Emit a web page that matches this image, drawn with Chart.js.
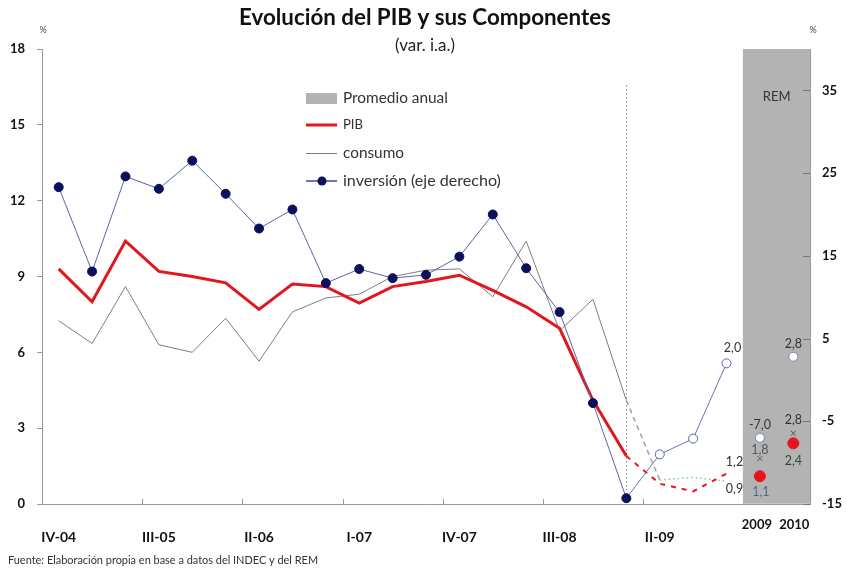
<!DOCTYPE html>
<html><head><meta charset="utf-8">
<script src="https://cdn.jsdelivr.net/npm/chart.js@4.4.1/dist/chart.umd.min.js"></script>
<style>html,body{margin:0;padding:0;background:#fff}#wrap{width:847px;height:571px;position:relative}</style>
</head><body><div id="wrap"><canvas id="c" width="847" height="571"></canvas></div>
<script>
// ---------- DATA ----------
const categories = ['IV-04','I-05','II-05','III-05','IV-05','I-06','II-06','III-06','IV-06','I-07','II-07','III-07','IV-07','I-08','II-08','III-08','IV-08','I-09','II-09','III-09','IV-09','2009','2010'];
const shownCategoryIdx = [0,3,6,9,12,15,18];
const promedioAnual = [null,null,null,null,null,null,null,null,null,null,null,null,null,null,null,null,null,null,null,null,null,18,18];
const pib =        [9.3,8.0,10.4,9.2,9.0,8.75,7.7,8.7,8.6,7.95,8.6,8.8,9.05,8.45,7.8,6.95,4.1,1.9,null,null,null,null,null];
const pibProy =    [null,null,null,null,null,null,null,null,null,null,null,null,null,null,null,null,null,1.9,0.8,0.5,1.2,null,null];
const consumo =    [7.25,6.35,8.6,6.3,6.0,7.35,5.65,7.6,8.15,8.3,9.0,9.25,9.3,8.2,10.4,6.85,8.1,4.1,null,null,null,null,null];
const consumoProy =[null,null,null,null,null,null,null,null,null,null,null,null,null,null,null,null,null,4.1,0.95,1.05,0.9,null,null];
const inversion =  [23.3,13.1,24.6,23.1,26.5,22.5,18.3,20.6,11.7,13.4,12.3,12.7,14.9,20.0,13.5,8.2,-2.8,-14.3,null,null,null,null,null];
const inversionProy=[null,null,null,null,null,null,null,null,null,null,null,null,null,null,null,null,null,-14.3,-9.0,-7.1,2.0,null,null];
const remPib =       [null,null,null,null,null,null,null,null,null,null,null,null,null,null,null,null,null,null,null,null,null,1.1,2.4];
const remConsumo =   [null,null,null,null,null,null,null,null,null,null,null,null,null,null,null,null,null,null,null,null,null,1.8,2.8];
const remInversion = [null,null,null,null,null,null,null,null,null,null,null,null,null,null,null,null,null,null,null,null,null,-7.0,2.8];
const leftTicks = [0,3,6,9,12,15,18];
const rightTicks = [-15,-5,5,15,25,35];
const yearLabels = ['2009','2010'];
const lastRealIdx = 17;

const FONT = 'Lato, "Open Sans", sans-serif';
const fmt = v => v.toFixed(1).replace('.', ',');

function fitText(ctx, text, x, y, width, weight, align) {
  ctx.font = weight + ' 20px ' + FONT;
  const w = ctx.measureText(text).width;
  const size = 20 * width / w;
  ctx.font = weight + ' ' + size.toFixed(2) + 'px ' + FONT;
  ctx.textAlign = align;
  ctx.fillText(text, x, y);
}

const decor = {
  id: 'decor',
  beforeDatasetsDraw(chart) {
    const {ctx, scales:{x}} = chart;
    const ca = chart.chartArea;
    ctx.save();
    ctx.strokeStyle = '#8a8a8a'; ctx.lineWidth = 1; ctx.setLineDash([1.5,2.5]);
    const xp = Math.round(x.getPixelForValue(lastRealIdx)) + 0.5;
    ctx.beginPath(); ctx.moveTo(xp, 85); ctx.lineTo(xp, ca.bottom); ctx.stroke();
    ctx.restore();
  },
  afterDraw(chart) {
    const {ctx, scales:{x, y, y2}} = chart;
    const ca = chart.chartArea;
    ctx.save();
    // x tick marks (inside)
    ctx.strokeStyle = '#999'; ctx.lineWidth = 1;
    [3,6,9,12,15,18].forEach(i => {
      const xp = Math.round((x.getPixelForValue(i-1) + x.getPixelForValue(i))/2) + 0.5;
      ctx.beginPath(); ctx.moveTo(xp, ca.bottom); ctx.lineTo(xp, ca.bottom - 5); ctx.stroke();
    });
    // right tick marks (inside)
    ctx.strokeStyle = '#777';
    rightTicks.forEach(v => {
      const yp = Math.round(y2.getPixelForValue(v)) + 0.5;
      ctx.beginPath(); ctx.moveTo(ca.right - 7, yp); ctx.lineTo(ca.right, yp); ctx.stroke();
    });
    // titles
    ctx.textBaseline = 'middle';
    ctx.fillStyle = '#111';
    fitText(ctx, 'Evolución del PIB y sus Componentes', 425, 18, 372, 'bold', 'center');
    ctx.fillStyle = '#222';
    fitText(ctx, '(var. i.a.)', 425, 46, 60, 'normal', 'center');
    ctx.textAlign = 'center';
    ctx.font = '9px ' + FONT; ctx.fillStyle = '#444';
    ctx.fillText('%', 43, 30);
    ctx.fillText('%', 813, 30);
    // REM
    const xr = (x.getPixelForValue(21) + x.getPixelForValue(22))/2;
    ctx.font = '13px ' + FONT; ctx.fillStyle = '#333';
    ctx.fillText('REM', xr, 97);
    // year labels
    ctx.font = 'bold 13px ' + FONT; ctx.fillStyle = '#111';
    yearLabels.forEach((t, k) => ctx.fillText(t, x.getPixelForValue(21 + k) + (k === 0 ? -3 : 1), 525));
    // source
    ctx.fillStyle = '#333';
    fitText(ctx, 'Fuente: Elaboración propia en base a datos del INDEC y del REM', 8, 560, 310, 'normal', 'left');
    // legend
    const lx0 = 306, lx1 = 337, tx = 343;
    ctx.fillStyle = '#b3b3b3'; ctx.fillRect(lx0, 93, lx1 - lx0, 11);
    ctx.fillStyle = '#333';
    fitText(ctx, 'Promedio anual', tx, 98, 105, 'normal', 'left');
    ctx.strokeStyle = '#e3161d'; ctx.lineWidth = 3;
    ctx.beginPath(); ctx.moveTo(lx0, 125); ctx.lineTo(lx1, 125); ctx.stroke();
    fitText(ctx, 'PIB', tx, 125, 20, 'normal', 'left');
    ctx.strokeStyle = '#7f7f7f'; ctx.lineWidth = 1;
    ctx.beginPath(); ctx.moveTo(lx0, 153.5); ctx.lineTo(lx1, 153.5); ctx.stroke();
    fitText(ctx, 'consumo', tx, 153, 61, 'normal', 'left');
    ctx.strokeStyle = '#3c48a0'; ctx.lineWidth = 1.5;
    ctx.beginPath(); ctx.moveTo(lx0, 181); ctx.lineTo(lx1, 181); ctx.stroke();
    ctx.fillStyle = '#0b0f5c'; ctx.beginPath(); ctx.arc(322, 181, 4.5, 0, Math.PI*2); ctx.fill();
    ctx.fillStyle = '#333';
    fitText(ctx, 'inversión (eje derecho)', tx, 181, 158, 'normal', 'left');
    // value labels
    ctx.textAlign = 'center'; ctx.font = '12.5px ' + FONT;
    const lab = (v, scale, i, dx, dy, col) => {
      ctx.fillStyle = col || '#333';
      ctx.fillText(fmt(v), x.getPixelForValue(i) + dx, scale.getPixelForValue(v) + dy);
    };
    lab(inversionProy[20], y2, 20, 6, -15);
    lab(pibProy[20], y, 20, 8, -12);
    lab(consumoProy[20], y, 20, 8, 8);
    lab(remInversion[21], y2, 21, 0, -13);
    lab(remConsumo[21], y, 21, 0, -9, '#556');
    lab(remPib[21], y, 21, 1, 16, '#4a6c8c');
    lab(remConsumo[22], y, 22, 0, -13);
    lab(remPib[22], y, 22, 0, 18, '#2f4a2f');
    lab(remInversion[22], y2, 22, 0, -13);
    ctx.restore();
  }
};

new Chart(document.getElementById('c'), {
  data: {
    labels: categories,
    datasets: [
      { type:'bar', label:'Promedio anual', data: promedioAnual, yAxisID:'y', backgroundColor:'#b3b3b3',
        barPercentage:1, categoryPercentage:1, borderWidth:0, order:10 },
      { type:'line', label:'consumo', data: consumo, yAxisID:'y', borderColor:'#7f7f7f', borderWidth:1,
        pointRadius:0, tension:0, order:5 },
      { type:'line', label:'consumo proy', data: consumoProy, yAxisID:'y', borderWidth:1.5, pointRadius:0, order:5,
        borderColor:'#8fd0a0',
        segment:{ borderColor: c => c.p0DataIndex === 17 ? '#a0a0a0' : '#7cc890',
                  borderDash: c => c.p0DataIndex === 17 ? [5,4] : [1.5,3] } },
      { type:'line', label:'PIB', data: pib, yAxisID:'y', borderColor:'#e3161d', borderWidth:3,
        pointRadius:0, tension:0, order:4 },
      { type:'line', label:'PIB proy', data: pibProy, yAxisID:'y', borderColor:'#e3161d', borderWidth:2,
        borderDash:[5,6], pointRadius:0, tension:0, order:4 },
      { type:'line', label:'inversión', data: inversion, yAxisID:'y2', borderColor:'#5a64a8', borderWidth:1,
        pointRadius:4.5, pointBackgroundColor:'#0b0f5c', pointBorderColor:'#0b0f5c', tension:0, order:3 },
      { type:'line', label:'inversión proy', data: inversionProy, yAxisID:'y2', borderColor:'#6a74b4', borderWidth:1,
        pointRadius: c => c.dataIndex === 17 ? 0 : 4.5, pointBackgroundColor:'#fff', pointBorderColor:'#5a64a8',
        pointBorderWidth:1, tension:0, order:3 },
      { type:'line', label:'REM inversión', data: remInversion, yAxisID:'y2', showLine:false, pointRadius:4.5,
        pointBackgroundColor:'#fff', pointBorderColor:'#7a84c0', pointBorderWidth:1, order:2 },
      { type:'line', label:'REM consumo', data: remConsumo, yAxisID:'y', showLine:false, pointStyle:'crossRot',
        pointRadius:3.5, pointBorderColor:'#555', pointBorderWidth:1, order:2 },
      { type:'line', label:'REM PIB', data: remPib, yAxisID:'y', showLine:false, pointRadius:5.5,
        pointBackgroundColor:'#e8141c', pointBorderColor:'#e8141c', order:1 }
    ]
  },
  options: {
    responsive:false, animation:false, devicePixelRatio:1,
    layout:{ padding:{ top:49, left:0, right:0, bottom:0 } },
    plugins:{ legend:{display:false}, tooltip:{enabled:false}, title:{display:false} },
    scales:{
      x:{ type:'category', offset:true,
          grid:{ display:false, drawTicks:false },
          border:{ display:true, color:'#999', width:1 },
          ticks:{ autoSkip:false, maxRotation:0, padding:25, color:'#111', font:{ family:FONT, size:14, weight:'bold' },
                  callback:(v,i) => shownCategoryIdx.includes(i) ? categories[i] : '' },
          afterFit: s => { s.height = 67; } },
      y:{ position:'left', min:0, max:18,
          afterBuildTicks: s => { s.ticks = leftTicks.map(v => ({value:v})); },
          grid:{ drawOnChartArea:false, drawTicks:true, tickLength:5, color:'#999' },
          border:{ display:true, color:'#999', width:1 },
          ticks:{ padding:12, color:'#111', font:{ family:FONT, size:13, weight:'bold' } },
          afterFit: s => { s.width = 42; } },
      y2:{ position:'right', min:-15, max:40,
          afterBuildTicks: s => { s.ticks = rightTicks.map(v => ({value:v})); },
          grid:{ drawOnChartArea:false, drawTicks:false },
          border:{ display:true, color:'#999', width:1 },
          ticks:{ padding:12, color:'#111', font:{ family:FONT, size:13, weight:'bold' } },
          afterFit: s => { s.width = 37; } }
    }
  },
  plugins:[decor]
});
</script></body></html>
